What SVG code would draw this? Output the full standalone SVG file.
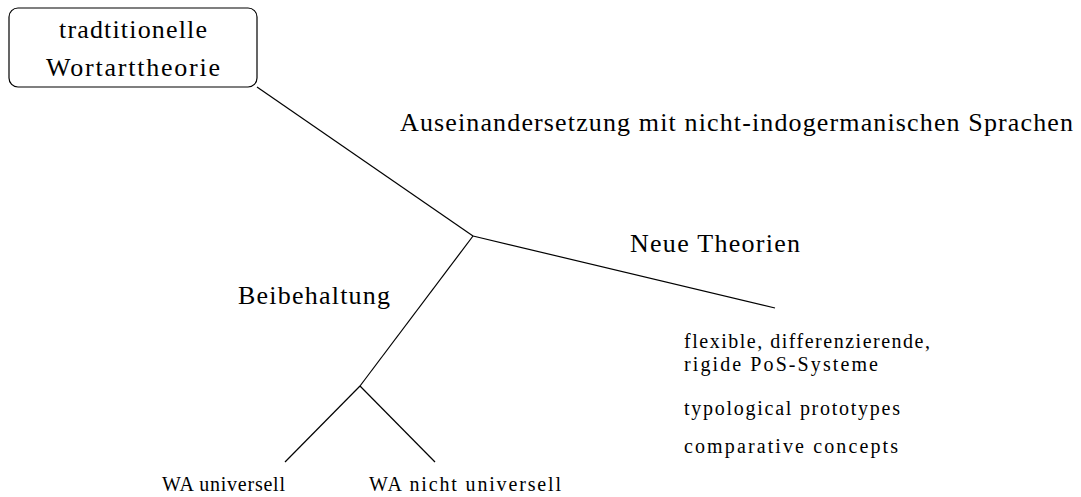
<svg xmlns="http://www.w3.org/2000/svg" width="1081" height="497" viewBox="0 0 1081 497">
  <style>
    .big { font-family: "Liberation Serif", "DejaVu Serif", serif; font-size: 26px; fill: #000; }
    .small { font-family: "Liberation Serif", "DejaVu Serif", serif; font-size: 20px; fill: #000; }
    .edge { stroke: #000; stroke-width: 1.2; fill: none; }
  </style>
  <rect width="1081" height="497" fill="#fff"/>
  <g id="connectors">
    <line class="edge" x1="257" y1="87" x2="473" y2="236"/>
    <line class="edge" x1="473" y1="236" x2="775" y2="308"/>
    <line class="edge" x1="473" y1="236" x2="360" y2="386"/>
    <line class="edge" x1="360" y1="386" x2="285" y2="462"/>
    <line class="edge" x1="360" y1="386" x2="435" y2="462"/>
  </g>
  <g id="root">
    <rect x="9" y="8" width="248" height="79" rx="9" ry="9" fill="#fff" stroke="#000" stroke-width="1.2"/>
    <text class="big" x="59" y="38" textLength="148" lengthAdjust="spacing">tradtitionelle</text>
    <text class="big" x="46" y="76" textLength="174" lengthAdjust="spacing">Wortarttheorie</text>
  </g>
  <g id="label-auseinandersetzung">
    <text class="big" x="400" y="131" textLength="673" lengthAdjust="spacing">Auseinandersetzung mit nicht-indogermanischen Sprachen</text>
  </g>
  <g id="label-neue-theorien">
    <text class="big" x="630" y="252" textLength="170" lengthAdjust="spacing">Neue Theorien</text>
  </g>
  <g id="label-beibehaltung">
    <text class="big" x="238" y="304" textLength="152" lengthAdjust="spacing">Beibehaltung</text>
  </g>
  <g id="theories">
    <text class="small" x="684" y="348" textLength="246" lengthAdjust="spacing">flexible, differenzierende,</text>
    <text class="small" x="684" y="371" textLength="194" lengthAdjust="spacing">rigide PoS-Systeme</text>
    <text class="small" x="684" y="415" textLength="216" lengthAdjust="spacing">typological prototypes</text>
    <text class="small" x="684" y="453" textLength="214" lengthAdjust="spacing">comparative concepts</text>
  </g>
  <g id="wa-universell">
    <text class="small" x="162" y="491" textLength="123" lengthAdjust="spacing">WA universell</text>
  </g>
  <g id="wa-nicht-universell">
    <text class="small" x="369" y="491" textLength="192" lengthAdjust="spacing">WA nicht universell</text>
  </g>
</svg>
